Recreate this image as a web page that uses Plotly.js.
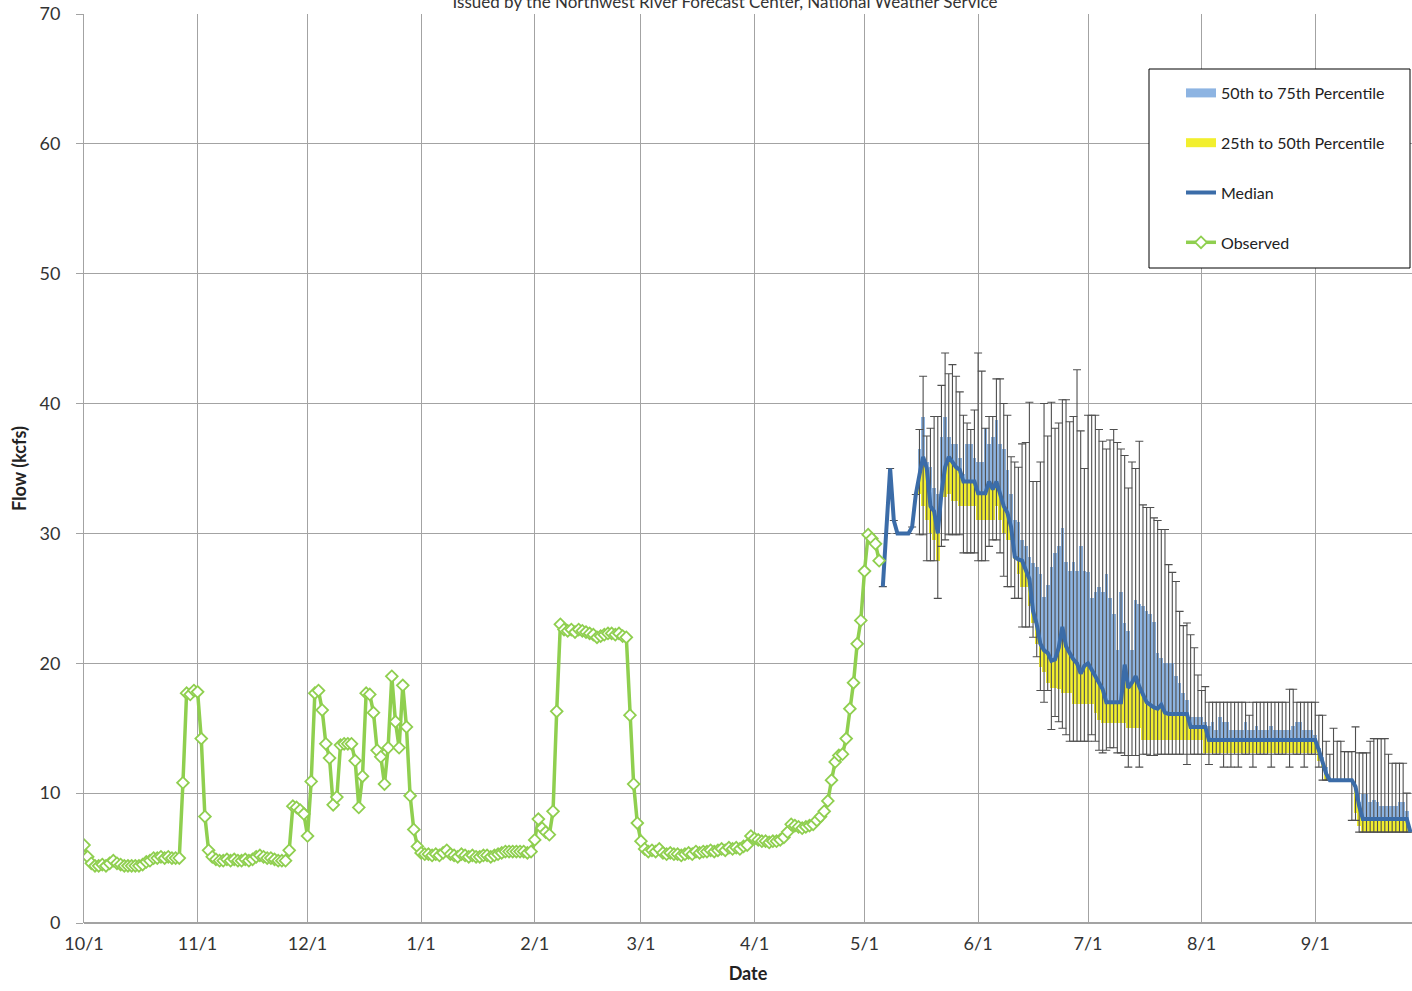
<!DOCTYPE html>
<html>
<head>
<meta charset="utf-8">
<script src="https://cdn.plot.ly/plotly-3.0.1.min.js"></script>
<style>html,body{margin:0;padding:0;background:#fff;}#chart{width:1412px;height:991px;}</style>
</head>
<body>
<div id="chart"></div>
<script>
// ---------- DATA ----------
const waterYearStart = '2015-10-01';
const forecastStartDay = 218; // 2016-05-06

const tickDates = ['2015-10-01','2015-11-01','2015-12-01','2016-01-01','2016-02-01','2016-03-01','2016-04-01','2016-05-01','2016-06-01','2016-07-01','2016-08-01','2016-09-01'];
const tickLabels = ['10/1','11/1','12/1','1/1','2/1','3/1','4/1','5/1','6/1','7/1','8/1','9/1'];

const observed = [
 6.0,5.1,4.6,4.4,4.4,4.5,4.4,4.6,4.8,4.6,
 4.5,4.4,4.4,4.4,4.4,4.4,4.5,4.7,4.8,5.0,
 5.0,5.1,5.0,5.1,5.0,5.0,5.0,10.8,17.7,17.6,
 17.9,17.8,14.2,8.2,5.6,5.1,4.9,4.8,4.8,4.9,
 4.8,4.9,4.8,4.8,4.9,4.8,4.9,5.1,5.2,5.1,
 5.0,5.0,4.9,4.8,4.8,4.8,5.6,9.0,8.9,8.7,
 8.4,6.7,10.9,17.7,17.9,16.4,13.8,12.7,9.1,9.7,
 13.7,13.8,13.8,13.8,12.5,8.9,11.3,17.7,17.6,16.2,
 13.3,12.8,10.7,13.5,19.0,15.5,13.5,18.3,15.1,9.8,
 7.2,5.9,5.4,5.3,5.3,5.2,5.3,5.2,5.4,5.6,
 5.3,5.2,5.1,5.3,5.2,5.1,5.2,5.1,5.1,5.2,
 5.2,5.1,5.2,5.3,5.4,5.5,5.5,5.5,5.5,5.5,
 5.5,5.4,5.5,6.4,8.0,7.3,7.0,6.8,8.6,16.3,
 23.0,22.6,22.5,22.6,22.4,22.6,22.5,22.4,22.3,22.2,
 22.0,22.1,22.2,22.3,22.3,22.2,22.3,22.1,22.0,16.0,
 10.7,7.7,6.3,5.7,5.5,5.6,5.5,5.7,5.4,5.3,
 5.4,5.3,5.3,5.2,5.3,5.4,5.3,5.5,5.4,5.5,
 5.5,5.6,5.5,5.6,5.7,5.6,5.8,5.7,5.8,5.7,
 5.9,6.0,6.7,6.5,6.4,6.3,6.3,6.2,6.3,6.3,
 6.4,6.6,7.0,7.6,7.5,7.4,7.3,7.4,7.5,7.6,
 7.9,8.2,8.6,9.4,11.0,12.4,12.9,13.0,14.2,16.5,
 18.5,21.5,23.3,27.1,29.9,29.6,29.2,27.9
];

const median = [
 25.9,30.0,35.0,31.0,30.0,30.0,30.0,30.0,30.5,33.0,
 34.5,35.9,35.0,32.1,31.7,30.0,33.1,35.1,35.9,35.5,
 35.1,34.9,34.0,34.0,34.0,34.0,33.1,33.1,33.1,34.0,
 33.4,34.0,33.1,32.1,31.6,30.5,28.2,28.0,27.9,27.2,
 26.5,24.0,23.0,21.5,21.0,20.8,20.2,20.3,21.2,22.8,
 21.3,20.8,20.3,20.0,19.2,19.8,20.0,19.5,19.0,18.4,
 18.0,17.0,17.0,17.0,17.0,17.0,19.9,18.1,18.5,19.0,
 18.2,17.5,17.0,16.8,16.6,16.5,16.8,16.2,16.1,16.1,
 16.1,16.1,16.1,16.1,15.1,15.1,15.1,15.1,15.1,14.1,
 14.1,14.1,14.1,14.1,14.1,14.1,14.1,14.1,14.1,14.1,
 14.1,14.1,14.1,14.1,14.1,14.1,14.1,14.1,14.1,14.1,
 14.1,14.1,14.1,14.1,14.1,14.1,14.1,14.1,14.1,13.3,
 12.5,11.5,11.0,11.0,11.0,11.0,11.0,11.0,11.0,10.5,
 9.0,8.0,8.0,8.0,8.0,8.0,8.0,8.0,8.0,8.0,
 8.0,8.0,8.0,8.0,7.0
];

const p75 = [
 25.9,30.0,35.0,31.0,30.0,30.0,30.0,30.0,30.5,33.0,
 36.5,39.0,35.5,35.1,33.5,33.0,37.4,39.0,37.4,36.9,
 36.9,35.8,34.6,36.9,36.9,35.8,35.5,35.5,38.1,36.9,
 37.4,38.7,36.9,36.5,34.9,33.0,31.0,30.9,29.5,29.0,
 28.2,27.7,27.4,26.9,25.1,26.0,27.4,28.5,29.0,30.4,
 27.8,27.1,27.8,27.1,29.0,27.1,27.0,25.0,25.5,25.9,
 25.5,26.9,25.0,23.8,21.0,25.5,23.1,22.5,21.0,24.9,
 24.6,24.4,24.0,23.8,23.2,20.8,20.4,20.0,20.0,20.0,
 19.0,18.5,17.7,17.2,15.9,15.9,15.9,15.9,15.5,15.2,
 15.5,14.9,15.9,15.5,15.5,14.9,14.9,14.9,14.9,15.5,
 14.9,14.9,15.2,14.9,14.9,14.9,15.2,14.9,14.9,14.9,
 14.9,14.9,15.2,15.5,15.5,14.9,14.9,14.9,14.5,13.5,
 12.8,12.0,11.0,11.0,11.0,11.0,11.0,11.0,11.0,10.5,
 9.3,9.9,9.9,9.3,9.5,9.3,9.0,9.0,9.0,9.0,
 9.0,9.3,9.3,8.6,7.0
];

const p25 = [
 25.9,30.0,35.0,31.0,30.0,30.0,30.0,30.0,30.5,33.0,
 33.0,32.1,31.0,30.0,29.5,27.9,32.8,32.8,33.0,32.5,
 32.5,32.1,32.1,32.1,32.1,32.1,31.0,31.0,31.0,31.0,
 31.0,32.1,31.0,30.0,29.5,29.5,28.0,26.9,25.9,25.9,
 24.4,23.1,21.5,19.7,19.3,18.5,18.1,18.1,18.0,17.7,
 17.7,17.7,16.9,16.9,16.9,16.9,16.9,16.9,16.2,15.6,
 15.4,15.4,15.4,15.4,15.4,15.4,15.4,15.0,15.0,15.0,
 15.0,14.1,14.1,14.1,14.1,14.1,14.1,14.1,14.1,14.1,
 14.1,14.1,14.1,14.1,14.1,14.1,14.1,14.1,13.1,13.1,
 13.1,13.1,13.1,13.1,13.1,13.1,13.1,13.1,13.1,13.1,
 13.1,13.1,13.1,13.1,13.1,13.1,13.1,13.1,13.1,13.1,
 13.1,13.1,13.1,13.1,13.1,13.1,13.1,13.1,13.1,12.5,
 12.0,11.0,11.0,11.0,11.0,11.0,11.0,11.0,11.0,8.5,
 7.5,7.0,7.0,7.0,7.0,7.0,7.0,7.0,7.0,7.0,
 7.0,7.0,7.0,7.0,7.0
];

const maxFlow = [
 25.9,30.0,35.0,31.0,30.0,30.0,30.0,30.0,30.5,33.0,
 38.0,42.1,37.5,38.1,39.0,39.0,41.4,43.9,42.3,43.0,
 42.1,40.9,39.1,38.5,38.0,39.5,43.9,42.5,38.1,39.0,
 39.0,41.9,41.9,40.0,39.1,35.9,35.5,35.1,36.9,37.0,
 40.1,34.0,34.0,35.5,40.0,37.5,40.1,38.1,38.5,40.3,
 40.3,38.6,39.0,42.6,37.9,35.0,39.1,39.1,39.1,38.0,
 37.1,36.5,37.2,38.0,37.0,36.5,36.0,33.5,35.5,35.0,
 37.1,32.2,32.0,32.0,31.2,31.0,30.3,30.3,27.6,27.0,
 26.3,24.0,22.9,23.1,22.2,21.2,19.1,17.9,18.2,17.0,
 17.0,17.0,17.0,17.0,17.0,17.0,17.0,17.0,17.0,17.0,
 16.0,17.0,17.0,17.0,17.0,17.0,17.0,17.0,17.0,17.0,
 17.0,18.0,18.0,17.0,17.0,17.0,17.0,17.0,17.0,16.0,
 16.0,14.0,13.0,15.0,14.0,14.0,13.2,13.2,13.2,15.1,
 13.1,13.1,13.1,14.0,14.2,14.2,14.2,14.2,13.0,12.3,
 12.3,12.3,12.3,10.0,7.0
];

const minFlow = [
 25.9,30.0,35.0,31.0,30.0,30.0,30.0,30.0,30.5,33.0,
 29.9,29.9,27.9,27.9,27.9,25.0,29.0,29.5,29.9,29.9,
 29.9,29.9,28.5,28.5,28.5,28.5,27.9,27.9,27.9,29.0,
 29.5,29.5,28.5,26.7,25.9,25.9,25.0,25.0,22.8,22.8,
 22.8,22.0,20.5,17.9,17.0,17.9,14.9,15.9,15.5,15.0,
 14.5,14.0,14.0,14.0,14.0,14.0,14.0,14.5,14.0,13.3,
 13.1,13.3,13.5,13.5,13.1,13.1,12.9,12.0,12.9,12.9,
 12.0,13.0,13.0,12.9,12.9,13.0,13.0,13.0,13.0,13.0,
 13.0,13.0,13.0,12.2,13.0,13.0,13.0,13.0,13.0,12.2,
 13.0,13.0,13.0,12.0,13.0,12.0,13.0,12.0,13.0,13.0,
 13.0,12.0,13.0,13.0,13.0,13.0,12.0,13.0,13.0,13.0,
 13.0,12.0,13.0,13.0,13.0,12.0,13.0,13.0,13.0,12.0,
 11.0,11.0,11.0,11.0,11.0,11.0,11.0,11.0,7.9,7.9,
 7.0,7.0,7.0,7.0,7.0,7.0,7.0,7.0,7.0,7.0,
 7.0,7.0,7.0,7.0,7.0
];

// ---------- BUILD ----------
const DAY = 86400000;
const t0 = Date.parse(waterYearStart + 'T00:00:00Z');
function dayStr(n){ return new Date(t0 + n*DAY).toISOString().slice(0,10); }
const obsDates = observed.map((_, i) => dayStr(i));
const fcDates = median.map((_, i) => dayStr(forecastStartDay + i));

const cBlue = '#8db4e2', cYellow = '#f2ef2e', cMedian = '#3b6ca8', cObs = '#8fcf4f';
const FONT = 'Lato, "Open Sans", sans-serif';

const traces = [
  {type:'scatter', x:[null], y:[null], mode:'lines', name:'50th to 75th Percentile',
   line:{color:cBlue, width:9}, legendgroup:'a', hoverinfo:'skip'},
  {type:'scatter', x:[null], y:[null], mode:'lines', name:'25th to 50th Percentile',
   line:{color:cYellow, width:9}, legendgroup:'b', hoverinfo:'skip'},
  {type:'bar', x:fcDates, base:p25, y:median.map((m,i)=>m-p25[i]), width:DAY,
   marker:{color:cYellow, line:{width:0}}, showlegend:false},
  {type:'bar', x:fcDates, base:median, y:p75.map((v,i)=>v-median[i]), width:DAY,
   marker:{color:cBlue, line:{width:0}}, showlegend:false},
  {type:'scatter', x:fcDates, y:median, mode:'markers', marker:{size:2, opacity:0},
   error_y:{type:'data', symmetric:false, array:maxFlow.map((v,i)=>v-median[i]),
            arrayminus:median.map((m,i)=>m-minFlow[i]), color:'#4f4f4f', thickness:1.1, width:4},
   showlegend:false, hoverinfo:'skip'},
  {type:'scatter', x:fcDates, y:median, mode:'lines', name:'Median',
   line:{color:cMedian, width:4}, legendgroup:'c'},
  {type:'scatter', x:obsDates, y:observed, mode:'lines+markers', name:'Observed',
   line:{color:cObs, width:3.5},
   marker:{symbol:'diamond', size:9, color:'#ffffff', line:{color:cObs, width:1.8}},
   legendgroup:'d'}
];

const L = 84, R = 1412, T = 14, B = 923;
const px = x => (x - L) / (R - L);
const py = y => (B - y) / (B - T);

const layout = {
  width:1412, height:991,
  margin:{l:84, r:0, t:14, b:68, pad:0},
  paper_bgcolor:'#ffffff', plot_bgcolor:'#ffffff',
  barmode:'overlay', bargap:0,
  font:{family:FONT, color:'#333333', size:18},
  title:{text:'Issued by the Northwest River Forecast Center, National Weather Service',
         font:{family:FONT, size:17, color:'#333333'},
         xref:'container', x:725/1412, xanchor:'center',
         yref:'container', y:1 - 2/991, yanchor:'middle'},
  xaxis:{type:'date', range:['2015-10-01', '2016-09-27 10:00'],
         tickmode:'array', tickvals:tickDates, ticktext:tickLabels,
         showgrid:true, gridcolor:'#a3a3a3', gridwidth:1,
         showline:false, zeroline:false, ticks:'', ticklabelstandoff:8,
         tickfont:{family:FONT, size:18, color:'#333333'},
         title:{text:'Date', font:{family:FONT, size:18, color:'#222222', weight:'bold'}, standoff:14},
         automargin:false},
  yaxis:{range:[0,70], dtick:10, tick0:0,
         showgrid:true, gridcolor:'#a3a3a3', gridwidth:1,
         showline:true, linecolor:'#a3a3a3', linewidth:1,
         zeroline:true, zerolinecolor:'#a3a3a3', zerolinewidth:2,
         ticks:'outside', ticklen:7, tickcolor:'#a3a3a3', ticklabelstandoff:12,
         tickfont:{family:FONT, size:18, color:'#333333'},
         title:{text:'Flow (kcfs)', font:{family:FONT, size:18, color:'#222222', weight:'bold'}, standoff:8},
         automargin:false},
  showlegend:true,
  legend:{x:px(1181), xanchor:'left', y:py(76), yanchor:'top',
          bgcolor:'rgba(0,0,0,0)', borderwidth:0,
          font:{family:FONT, size:16, color:'#222222'},
          traceorder:'grouped', tracegroupgap:26},
  shapes:[{type:'rect', xref:'paper', yref:'paper', x0:px(1149), x1:px(1410), y0:py(268), y1:py(69),
           line:{color:'#000000', width:1}, fillcolor:'#ffffff', layer:'above'}]
};

Plotly.newPlot('chart', traces, layout, {displayModeBar:false, staticPlot:true});
</script>
</body>
</html>
